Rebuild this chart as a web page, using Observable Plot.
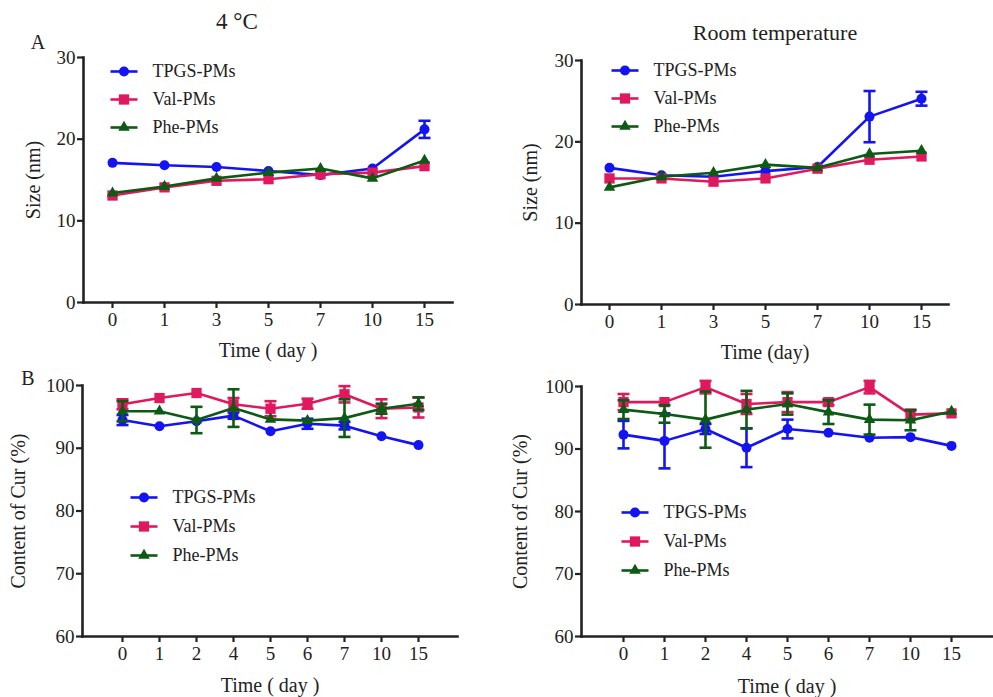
<!DOCTYPE html>
<html>
<head>
<meta charset="utf-8">
<script src="https://cdn.jsdelivr.net/npm/d3@7"></script>
<script src="https://cdn.jsdelivr.net/npm/@observablehq/plot@0.6"></script>
<style>
  body { margin: 0; background: #fff; }
  #root { position: relative; width: 993px; height: 697px; background: #fff; overflow: hidden; font-family: "Liberation Serif", "Times New Roman", serif; color: #222; }
  #root svg, #root svg text { font-family: "Liberation Serif", "Times New Roman", serif !important; }
  .panel { position: absolute; }
  .lbl { position: absolute; transform: translate(-50%, -50%); white-space: nowrap; color: #222; }
</style>
</head>
<body>
<div id="root"></div>
<script>
// ---------- data ----------
const series = ["TPGS-PMs", "Val-PMs", "Phe-PMs"];
const colors = ["#1414f2", "#e0185e", "#0d5a14"];

const daysA = ["0", "1", "3", "5", "7", "10", "15"];
const daysB = ["0", "1", "2", "4", "5", "6", "7", "10", "15"];

// Size (nm), 4 °C
const sizeCold_TPGS = [17.1, 16.8, 16.6, 16.1, 15.6, 16.4, 21.2];
const sizeCold_TPGS_err = [0, 0, 0, 0, 0, 0, 1.05];
const sizeCold_Val = [13.1, 14.1, 14.9, 15.1, 15.7, 15.9, 16.7];
const sizeCold_Val_err = [0, 0, 0, 0, 0, 0, 0];
const sizeCold_Phe = [13.4, 14.2, 15.2, 15.9, 16.4, 15.2, 17.4];
const sizeCold_Phe_err = [0, 0, 0, 0, 0, 0, 0];

// Size (nm), room temperature
const sizeRT_TPGS = [16.8, 15.9, 15.7, 16.4, 16.9, 23.1, 25.3];
const sizeRT_TPGS_err = [0, 0, 0, 0, 0, 3.15, 0.85];
const sizeRT_Val = [15.5, 15.5, 15.1, 15.5, 16.7, 17.8, 18.2];
const sizeRT_Val_err = [0, 0, 0, 0, 0, 0, 0];
const sizeRT_Phe = [14.4, 15.7, 16.2, 17.2, 16.8, 18.5, 18.9];
const sizeRT_Phe_err = [0, 0, 0, 0, 0, 0, 0];

// Content of Cur (%), 4 °C
const curCold_TPGS = [94.5, 93.5, 94.3, 95.2, 92.7, 93.9, 93.6, 91.9, 90.5];
const curCold_TPGS_err = [0.8, 0, 0, 0.5, 0, 0.8, 0.6, 0, 0];
const curCold_Val = [97.0, 98.0, 98.8, 97.0, 96.3, 97.1, 98.6, 96.3, 96.5];
const curCold_Val_err = [0.8, 0, 0, 1.0, 1.2, 0.8, 1.3, 1.5, 1.6];
const curCold_Phe = [95.9, 95.9, 94.5, 96.4, 94.6, 94.4, 94.8, 96.3, 97.1];
const curCold_Phe_err = [1.6, 0, 2.1, 3.0, 0, 0, 3.0, 0.8, 1.0];

// Content of Cur (%), room temperature
const curRT_TPGS = [92.3, 91.3, 93.2, 90.2, 93.2, 92.6, 91.8, 91.9, 90.5];
const curRT_TPGS_err = [2.2, 4.4, 0.8, 3.1, 1.5, 0, 0, 0, 0];
const curRT_Val = [97.5, 97.5, 99.9, 97.2, 97.5, 97.5, 99.9, 95.5, 95.7];
const curRT_Val_err = [1.3, 0, 1.0, 1.6, 1.6, 0.5, 1.0, 0.8, 0];
const curRT_Phe = [96.3, 95.6, 94.7, 96.3, 97.2, 95.9, 94.7, 94.6, 96.0];
const curRT_Phe_err = [1.5, 1.4, 4.5, 3.0, 1.7, 1.9, 2.4, 1.6, 0];

const ticksSize = [0, 10, 20, 30];
const ticksCur = [60, 70, 80, 90, 100];

// ---------- helpers ----------
const FONT = "Liberation Serif";
const hline = {
  draw(ctx, size) {
    const r = Math.sqrt(size / Math.PI);
    ctx.moveTo(-r, 0);
    ctx.lineTo(r, 0);
  }
};
const symbols = ["circle", "square", "triangle"];
const symR = [5, 5.8, 4.3];

function rowsOf(days, vals, errs) {
  return days.map((d, i) => ({day: d, v: vals[i], e: errs[i]}));
}

function panel(cfg) {
  const marks = [
    Plot.axisX({tickSize: 6, tickPadding: 4, strokeWidth: 2.2, label: null, fontSize: 19, fontFamily: FONT}),
    Plot.axisY({ticks: cfg.yTicks, tickSize: 6, tickPadding: 2, strokeWidth: 2.2, label: null, fontSize: 19, fontFamily: FONT}),
    Plot.frame({anchor: "left", strokeWidth: 2.6}),
    Plot.frame({anchor: "bottom", strokeWidth: 2.6}),
    Plot.text([cfg.xLabel], {frameAnchor: "bottom", dy: cfg.xLabelDy, textAnchor: "middle", lineAnchor: "middle", fontSize: 20, fontFamily: FONT, fill: "#222"}),
    Plot.text([cfg.yLabel], {frameAnchor: "left", dx: -cfg.yLabelDx, rotate: -90, textAnchor: "middle", lineAnchor: "middle", fontSize: 20, fontFamily: FONT, fill: "#222"})
  ];
  cfg.data.forEach((s, k) => {
    const rows = rowsOf(cfg.days, s.v, s.e);
    const er = rows.filter(r => r.e > 0);
    marks.push(Plot.line(rows, {x: "day", y: "v", stroke: colors[k], strokeWidth: 2.6}));
    marks.push(Plot.ruleX(er, {x: "day", y1: r => r.v - r.e, y2: r => r.v + r.e, stroke: colors[k], strokeWidth: 2.6}));
    marks.push(Plot.dot(er, {x: "day", y: r => r.v - r.e, symbol: hline, r: 6, fill: "none", stroke: colors[k], strokeWidth: 2.6}));
    marks.push(Plot.dot(er, {x: "day", y: r => r.v + r.e, symbol: hline, r: 6, fill: "none", stroke: colors[k], strokeWidth: 2.6}));
    marks.push(Plot.dot(rows, {x: "day", y: "v", symbol: symbols[k], r: symR[k], fill: colors[k], stroke: "none"}));
  });
  // legend
  const L = cfg.legend;
  series.forEach((name, k) => {
    const dy = L.dy + k * L.gap;
    marks.push(Plot.dot([0], {frameAnchor: "top-left", dx: L.dx + 13.5, dy, symbol: hline, r: 13.5, fill: "none", stroke: colors[k], strokeWidth: 2.6}));
    marks.push(Plot.dot([0], {frameAnchor: "top-left", dx: L.dx + 13.5, dy, symbol: symbols[k], r: symR[k], fill: colors[k], stroke: "none"}));
    marks.push(Plot.text([name], {frameAnchor: "top-left", dx: L.dx + 42, dy, text: d => d, textAnchor: "start", lineAnchor: "middle", fontSize: 18, fontFamily: FONT, fill: "#222"}));
  });
  const svg = Plot.plot({
    width: cfg.width,
    height: cfg.height,
    marginLeft: cfg.m[3], marginRight: cfg.m[1], marginTop: cfg.m[0], marginBottom: cfg.m[2],
    style: "font-family: 'Liberation Serif', 'Times New Roman', serif; font-size: 19px; color: #222; background: transparent; overflow: visible;",
    x: {type: "point", domain: cfg.days, padding: cfg.xPad},
    y: {domain: cfg.yDomain},
    marks
  });
  const wrap = document.createElement("div");
  wrap.className = "panel";
  wrap.style.left = cfg.left + "px";
  wrap.style.top = cfg.top + "px";
  wrap.appendChild(svg);
  document.getElementById("root").appendChild(wrap);
}

panel({
  left: 0, top: 0, width: 493, height: 370, m: [57, 41, 68, 83],
  days: daysA, xPad: 0.5, yDomain: [0, 30], yTicks: ticksSize,
  xLabel: "Time ( day )", xLabelDy: 48, yLabel: "Size (nm)", yLabelDx: 50,
  data: [{v: sizeCold_TPGS, e: sizeCold_TPGS_err}, {v: sizeCold_Val, e: sizeCold_Val_err}, {v: sizeCold_Phe, e: sizeCold_Phe_err}],
  legend: {dx: 27, dy: 14, gap: 28}
});
panel({
  left: 493, top: 0, width: 500, height: 370, m: [60, 45, 66, 88],
  days: daysA, xPad: 0.5, yDomain: [0, 30], yTicks: ticksSize,
  xLabel: "Time (day)", xLabelDy: 48, yLabel: "Size (nm)", yLabelDx: 51,
  data: [{v: sizeRT_TPGS, e: sizeRT_TPGS_err}, {v: sizeRT_Val, e: sizeRT_Val_err}, {v: sizeRT_Phe, e: sizeRT_Phe_err}],
  legend: {dx: 30, dy: 10, gap: 28}
});
panel({
  left: 0, top: 340, width: 493, height: 357, m: [45, 36, 61, 82],
  days: daysB, xPad: 1, yDomain: [60, 100], yTicks: ticksCur,
  xLabel: "Time ( day )", xLabelDy: 49, yLabel: "Content of Cur (%)", yLabelDx: 64,
  data: [{v: curCold_TPGS, e: curCold_TPGS_err}, {v: curCold_Val, e: curCold_Val_err}, {v: curCold_Phe, e: curCold_Phe_err}],
  legend: {dx: 48, dy: 112, gap: 29}
});
panel({
  left: 493, top: 340, width: 500, height: 357, m: [46, 1, 61, 88],
  days: daysB, xPad: 1, yDomain: [60, 100], yTicks: ticksCur,
  xLabel: "Time ( day )", xLabelDy: 50, yLabel: "Content of Cur (%)", yLabelDx: 61,
  data: [{v: curRT_TPGS, e: curRT_TPGS_err}, {v: curRT_Val, e: curRT_Val_err}, {v: curRT_Phe, e: curRT_Phe_err}],
  legend: {dx: 40, dy: 126, gap: 29}
});

// titles and panel letters
const labels = [
  {t: "4 °C", x: 237, y: 22, s: 23},
  {t: "Room temperature", x: 775, y: 33, s: 22},
  {t: "A", x: 38, y: 42, s: 20},
  {t: "B", x: 28, y: 378, s: 20}
];
labels.forEach(l => {
  const d = document.createElement("div");
  d.className = "lbl";
  d.textContent = l.t;
  d.style.left = l.x + "px";
  d.style.top = l.y + "px";
  d.style.fontSize = l.s + "px";
  document.getElementById("root").appendChild(d);
});
</script>
</body>
</html>
